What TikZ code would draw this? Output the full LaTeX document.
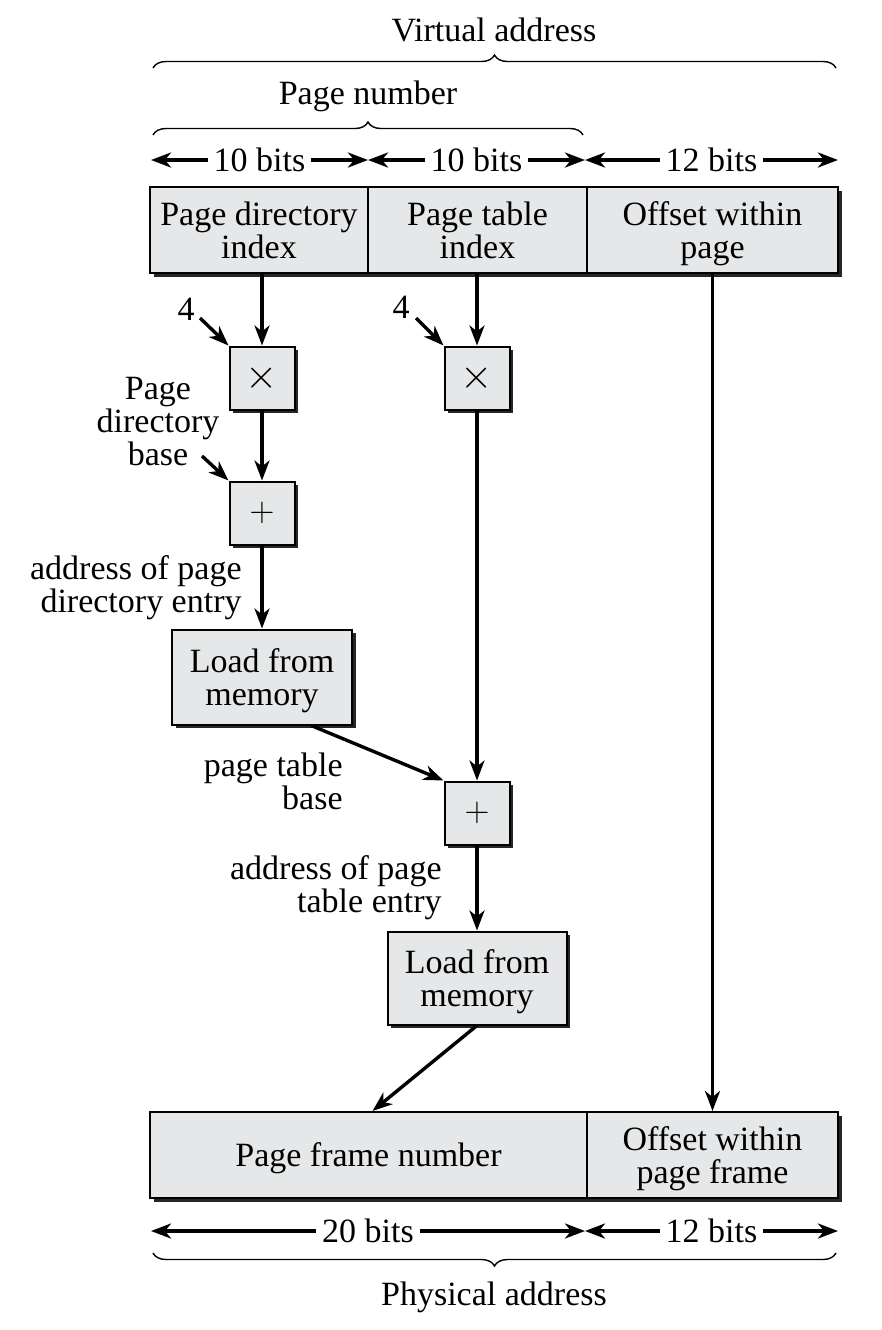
\documentclass[tikz,border=0pt]{standalone}
\usepackage{fontspec}
\setmainfont{Liberation Serif}
\usetikzlibrary{arrows.meta,shadows,decorations.pathreplacing,calc}
\definecolor{boxgray}{HTML}{E6E7E8}
\begin{document}
\begin{tikzpicture}[x=0.5pt,y=-0.5pt,
  txt/.style={font=\fontsize{17}{16.5}\selectfont, inner sep=0pt, align=center},
  cell/.style={draw, line width=1pt, fill=boxgray, inner sep=0pt, align=center,
    font=\fontsize{17}{16.5}\selectfont,
    drop shadow={shadow xshift=1.8pt, shadow yshift=-1.8pt, fill=black!85, opacity=1}},
  two/.style={text height=31pt, text depth=3pt},
  one/.style={text height=13pt, text depth=2pt},
  op/.style={cell, minimum width=32.5pt, minimum height=31.5pt},
  conn/.style={line width=1.7pt, -{Stealth[length=10pt,width=7.5pt,inset=3pt]}},
  dimline/.style={line width=1.7pt, {Stealth[length=10pt,width=7.5pt,inset=3pt]}-{Stealth[length=10pt,width=7.5pt,inset=3pt]}},
  dimlab/.style={txt, fill=white, inner xsep=3pt, inner ysep=2pt},
  brc/.style={decorate, decoration={brace, amplitude=6.5pt}, line width=0.7pt}
]
\useasboundingbox (0,0) rectangle (882,1330);

% labels and braces at top
\node[txt] (va) at (494,30) {Virtual address};
\coordinate (vb1) at (153,68);
\coordinate (vb2) at (836,68);
\draw[brc] (vb1) -- (vb2);
\node[txt] (pn) at (368,96) {Page number};
\coordinate (pb1) at (153,135);
\coordinate (pb2) at (583,135);
\draw[brc] (pb1) -- (pb2);

% bit widths (top)
\coordinate (t0) at (151,160);
\coordinate (t1) at (368,160);
\coordinate (t2) at (585,160);
\coordinate (t3) at (838,160);
\draw[dimline] (t0) -- node[dimlab] {10 bits} (t1);
\draw[dimline] (t1) -- node[dimlab] {10 bits} (t2);
\draw[dimline] (t2) -- node[dimlab] {12 bits} (t3);

% virtual address register
\node[cell, two, minimum width=109pt, minimum height=43pt] (C1) at (259,230) {Page directory\\index};
\node[cell, two, minimum width=109.5pt, minimum height=43pt] (C2) at (477.5,230) {Page table\\index};
\node[cell, two, minimum width=125.5pt, minimum height=43pt] (C3) at (712.5,230) {Offset within\\page};

% operators
\node[op, font=\fontsize{20}{20}\selectfont] (M1) at (262,378) {$\times$};
\node[op, font=\fontsize{20}{20}\selectfont] (M2) at (477,378) {$\times$};
\node[op, font=\fontsize{16}{16}\selectfont] (A1) at (262,513) {$+$};
\node[op, font=\fontsize{16}{16}\selectfont] (A2) at (477,813) {$+$};
\node[cell, two, minimum width=90pt, minimum height=47.5pt] (L1) at (262,677) {Load from\\memory};
\node[cell, two, minimum width=89.5pt, minimum height=46.5pt] (L2) at (477,978) {Load from\\memory};

% physical address register
\node[cell, one, minimum width=218.5pt, minimum height=43pt] (F1) at (368.5,1155) {Page frame number};
\node[cell, two, minimum width=125.5pt, minimum height=43pt] (F2) at (712.5,1155) {Offset within\\page frame};

% side labels
\node[txt] (four1) at (186,309) {4};
\coordinate (f1s) at (200,318);
\node[txt] (four2) at (401,307) {4};
\coordinate (f2s) at (416,318);
\node[txt] (pdb) at (158,422) {Page\\directory\\base};
\coordinate (pdbs) at (202,456);
\node[txt, align=right, anchor=east] (ade) at (242,588) {address of page\\directory entry};
\node[txt, align=right, anchor=east] (ptb) at (343,781) {page table\\base};
\node[txt, align=right, anchor=east] (ate) at (442,888) {address of page\\table entry};

% connectors
\draw[conn] (M1 |- C1.south) -- (M1.north);
\draw[conn] (f1s) -- (M1.north west);
\draw[conn] (M1.south) -- (A1.north);
\draw[conn] (pdbs) -- (A1.north west);
\draw[conn] (A1.south) -- (L1.north);
\draw[conn] (M2 |- C2.south) -- (M2.north);
\draw[conn] (f2s) -- (M2.north west);
\draw[conn] (M2.south) -- (A2.north);
\draw[conn] ($(L1.south west)!0.77!(L1.south east)$) -- (A2.north west);
\draw[conn] (A2.south) -- (L2.north);
\draw[conn] (L2.south) -- ($(F1.north)+(4,0)$);
\draw[conn] (C3.south) -- (F2.north);

% bit widths (bottom)
\coordinate (b0) at (151,1231);
\coordinate (b1) at (585,1231);
\coordinate (b2) at (838,1231);
\draw[dimline] (b0) -- node[dimlab] {20 bits} (b1);
\draw[dimline] (b1) -- node[dimlab] {12 bits} (b2);
\coordinate (qb1) at (836,1253);
\coordinate (qb2) at (153,1253);
\draw[brc] (qb1) -- (qb2);
\node[txt] (pa) at (494,1297) {Physical address};
\end{tikzpicture}
\end{document}
